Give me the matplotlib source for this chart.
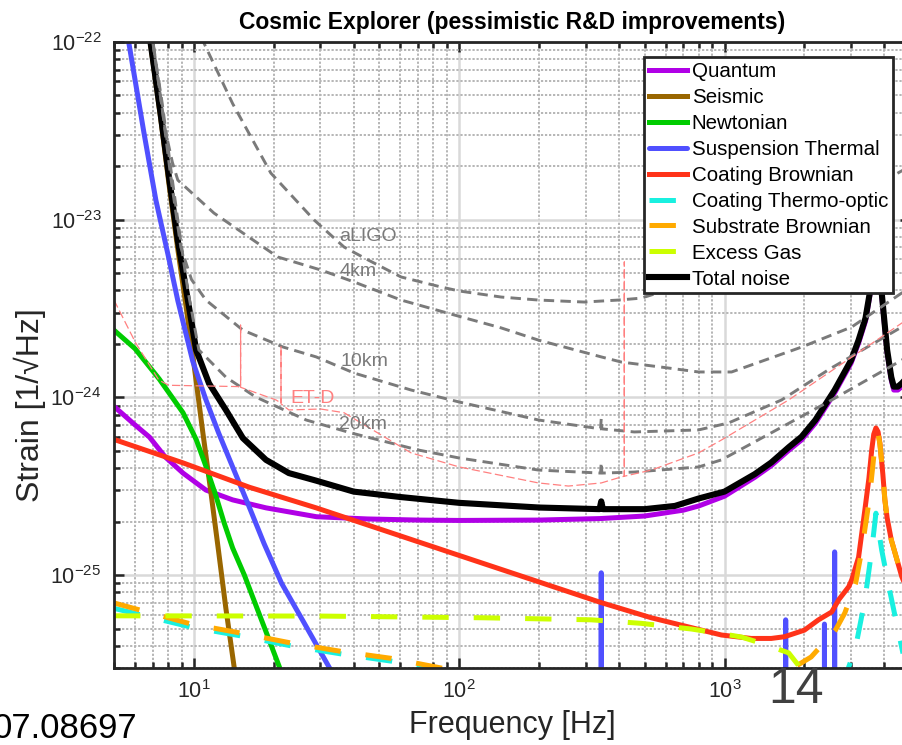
import matplotlib
matplotlib.use("Agg")
import numpy as np
import matplotlib.pyplot as plt
from matplotlib.ticker import LogLocator, NullFormatter

plt.rcParams['font.family'] = ['Liberation Sans', 'DejaVu Sans']
plt.rcParams['mathtext.fontset'] = 'custom'
plt.rcParams['mathtext.rm'] = 'Liberation Sans'
plt.rcParams['lines.scale_dashes'] = False
plt.rcParams['axes.unicode_minus'] = False

# --- noise budget curves ---
f_quantum = [5, 6, 6.8, 7.8, 9.1, 11.1, 14, 18.7, 29, 45, 70, 100, 200, 340, 500, 700, 800, 1000, 1300, 1500,
             1750, 1950, 2200, 2600, 3000, 3200, 3400, 3530, 3620, 3700, 3760, 3850, 3912, 4100, 4250, 4343,
             4500, 4656, 5000]
h_quantum = [8.9e-25, 7.0e-25, 5.98e-25, 4.62e-25, 3.75e-25, 3.01e-25, 2.65e-25, 2.39e-25, 2.13e-25, 2.07e-25,
             2.04e-25, 2.03e-25, 2.04e-25, 2.08e-25, 2.15e-25, 2.32e-25, 2.45e-25, 2.78e-25, 3.55e-25, 4.13e-25,
             5.05e-25, 5.76e-25, 7.16e-25, 1.06e-24, 1.56e-24, 2.02e-24, 2.69e-24, 3.75e-24, 6.7e-24, 1.49e-23,
             1.49e-23, 5.8e-24, 3.72e-24, 1.78e-24, 1.25e-24, 1.1e-24, 1.1e-24, 1.15e-24, 1.3e-24]

f_seis = [6.5, 6.85, 7.5, 8.05, 8.7, 9.33, 10.0, 10.8, 11.6, 12.4, 13.2, 14.2, 15.0]
h_seis = [1.8e-22, 1.0e-22, 3.7e-23, 1.6e-23, 6.8e-24, 3.3e-24, 1.55e-24, 6.4e-25, 2.9e-25, 1.35e-25,
          6.5e-26, 3.0e-26, 1.6e-26]

f_newt = [5, 6, 7.4, 9.1, 10.2, 11.1, 12.1, 13, 14, 15.5, 16.2, 18.7, 20.9, 23]
h_newt = [2.39e-24, 1.88e-24, 1.27e-24, 8.2e-25, 5.8e-25, 4.1e-25, 2.8e-25, 1.97e-25, 1.42e-25, 1.0e-25,
          8.4e-26, 4.8e-26, 3.1e-26, 2.1e-26]

f_susp = [5.3, 5.68, 6.48, 7.19, 8.0, 8.7, 9.9, 11.1, 12.4, 14.0, 16.2, 18.4, 21.4, 26, 32.3, 36, 60, 150,
          340, 343, 346, 1000, 1695, 1700, 1705, 2375, 2380, 2385, 2595, 2600, 2605, 5000]
h_susp = [2e-22, 1.0e-22, 3.1e-23, 1.29e-23, 6.3e-24, 3.5e-24, 1.6e-24, 9.7e-25, 6.3e-25, 4.06e-25,
          2.4e-25, 1.5e-25, 9.0e-26, 5.4e-26, 3.04e-26, 2.3e-26, 8e-27, 2e-27, 1e-27, 1.03e-25, 1e-27,
          5e-28, 5e-28, 5.6e-26, 5e-28, 5e-28, 5.3e-26, 5e-28, 5e-28, 1.35e-25, 5e-28, 5e-28]

f_cb = [5, 9.1, 16.2, 28.9, 94, 343, 530, 819, 974, 1260, 1500, 1684, 2000, 2260, 2534, 2700, 2938, 3015,
        3200, 3380, 3500, 3587, 3650, 3720, 3790, 3850, 3950, 4020, 4100, 4250, 4656, 5000]
h_cb = [5.8e-25, 4.28e-25, 3.12e-25, 2.39e-25, 1.33e-25, 7.0e-26, 5.75e-26, 4.9e-26, 4.6e-26, 4.4e-26,
        4.4e-26, 4.5e-26, 4.9e-26, 5.6e-26, 6.2e-26, 7.3e-26, 8.6e-26, 9.4e-26, 1.26e-25, 2.33e-25,
        3.5e-25, 5.06e-25, 6.2e-25, 6.73e-25, 6.4e-25, 5.53e-25, 3.7e-25, 2.65e-25, 2.1e-25, 1.58e-25,
        9.8e-26, 7.6e-26]

f_cto = [5, 9.74, 15.0, 23.2, 35.9, 55.4, 85.5, 150, 400, 1000, 2000, 2700, 2938, 3120, 3380, 3587, 3720,
         3912, 4165, 4400, 4700, 5000]
h_cto = [6.5e-26, 5.1e-26, 4.55e-26, 4.0e-26, 3.6e-26, 3.28e-26, 2.9e-26, 2.4e-26, 1.6e-26, 1.1e-26,
         1.2e-26, 2.0e-26, 3.04e-26, 3.93e-26, 7.24e-26, 1.38e-25, 2.23e-25, 1.38e-25, 8.57e-26, 5.8e-26,
         3.65e-26, 2.8e-26]

f_sub = [5, 9.74, 15.0, 23.2, 35.9, 55.4, 85.5, 150, 400, 1000, 1500, 1837, 2120, 2620, 2840, 3120, 3290,
         3510, 3620, 3720, 3790, 3850, 3950, 4020, 4100, 4250, 4656, 5000]
h_sub = [6.97e-26, 5.31e-26, 4.72e-26, 4.15e-26, 3.72e-26, 3.4e-26, 3.0e-26, 2.5e-26, 1.8e-26, 1.4e-26,
         2.1e-26, 3.04e-26, 3.46e-26, 4.91e-26, 6.12e-26, 9.0e-26, 1.38e-25, 2.65e-25, 4.1e-25, 6.1e-25,
         6.2e-25, 5.5e-25, 3.7e-25, 2.65e-25, 2.1e-25, 1.58e-25, 9.8e-26, 7.6e-26]

f_gas = [5, 30, 124, 315, 486, 751, 1000, 1159, 1400, 1744, 1900, 2100, 2400]
h_gas = [5.9e-26, 5.88e-26, 5.75e-26, 5.6e-26, 5.35e-26, 4.97e-26, 4.65e-26, 4.48e-26, 4.1e-26, 3.65e-26,
         3.1e-26, 2.3e-26, 1.5e-26]

f_total = [6.6, 6.85, 7.5, 8.05, 8.7, 9.49, 10.2, 11.4, 13.2, 15.3, 18.7, 22.8, 28.9, 40, 60, 100, 200,
           338, 343, 348, 500, 650, 800, 1000, 1300, 1500, 1750, 1950, 2200, 2600, 3000, 3200, 3400, 3530,
           3620, 3700, 3760, 3850, 3912, 4100, 4250, 4343, 4500, 4656, 5000]
h_total = [1.8e-22, 1.02e-22, 3.9e-23, 1.75e-23, 7.6e-24, 3.53e-24, 1.85e-24, 1.2e-24, 8.5e-25, 5.9e-25,
           4.45e-25, 3.75e-25, 3.4e-25, 2.95e-25, 2.75e-25, 2.55e-25, 2.4e-25, 2.35e-25, 2.6e-25, 2.35e-25,
           2.35e-25, 2.45e-25, 2.7e-25, 2.95e-25, 3.7e-25, 4.3e-25, 5.26e-25, 6.0e-25, 7.46e-25, 1.1e-24,
           1.62e-24, 2.1e-24, 2.8e-24, 3.9e-24, 7e-24, 1.55e-23, 1.55e-23, 6e-24, 3.87e-24, 1.85e-24,
           1.3e-24, 1.15e-24, 1.15e-24, 1.2e-24, 1.35e-24]

# --- reference sensitivities ---
f_aligo = [10, 10.9, 14, 19.5, 28.4, 36.8, 45.4, 60.4, 85.5, 100, 144, 199, 296, 398, 486, 700, 1000, 2000,
           3000, 4500, 5000]
h_aligo = [1.3e-22, 9.9e-23, 4.5e-23, 1.83e-23, 9.96e-24, 7.02e-24, 5.93e-24, 4.76e-24, 4.18e-24, 3.97e-24,
           3.67e-24, 3.53e-24, 3.44e-24, 3.53e-24, 3.62e-24, 4.3e-24, 5.5e-24, 9.5e-24, 1.3e-23, 1.83e-23,
           2.0e-23]

f_4km = [7.0, 7.8, 8.3, 8.7, 11.9, 20.7, 30.1, 40.2, 60.4, 95.7, 144, 199, 343, 409, 600, 798, 1063, 1953,
         3015, 4656, 5000]
h_4km = [1.0e-22, 3.2e-23, 2.1e-23, 1.67e-23, 1.09e-23, 6.17e-24, 5.21e-24, 4.46e-24, 3.53e-24, 2.91e-24,
         2.46e-24, 2.1e-24, 1.69e-24, 1.58e-24, 1.47e-24, 1.39e-24, 1.39e-24, 1.92e-24, 2.49e-24, 3.87e-24,
         4.2e-24]

f_10km = [6.9, 7.6, 8.2, 8.93, 9.8, 11.1, 15.3, 21.7, 28.9, 40.2, 65.9, 100, 199, 323, 341, 343, 345, 457,
          798, 1035, 1640, 2500, 4656, 5000]
h_10km = [1.2e-22, 4.2e-23, 1.7e-23, 7.0e-24, 4.6e-24, 3.53e-24, 2.39e-24, 1.92e-24, 1.69e-24, 1.37e-24,
          1.1e-24, 9.42e-25, 7.46e-25, 6.73e-25, 6.65e-25, 7.6e-25, 6.65e-25, 6.39e-25, 6.56e-25, 7.18e-25,
          9.67e-25, 1.45e-24, 2.49e-24, 2.65e-24]

f_20km = [6.9, 7.6, 8.2, 8.78, 9.49, 10.44, 13.2, 17.1, 26.5, 39.1, 70, 100, 199, 341, 343, 345, 457, 798,
          974, 2534, 4656, 5000]
h_20km = [1.15e-22, 4.5e-23, 1.9e-23, 9e-24, 4.0e-24, 1.85e-24, 1.3e-24, 1.005e-24, 7.46e-25, 6.31e-25,
          5.06e-25, 4.56e-25, 3.9e-25, 3.75e-25, 4.3e-25, 3.75e-25, 3.8e-25, 4.06e-25, 4.45e-25, 9.67e-25,
          1.62e-24, 1.75e-24]

f_etd = [5, 6.04, 7.38, 8.05, 14.8, 15.0, 15.0, 15.0, 20.4, 21.3, 21.3, 21.3, 22.8, 30.1, 36.8, 49.4, 65.9,
         100, 199, 258, 343, 409, 419, 419, 419, 530, 798, 974, 1744, 4656, 5000]
h_etd = [3.53e-24, 2.02e-24, 1.25e-24, 1.17e-24, 1.15e-24, 1.15e-24, 2.55e-24, 1.14e-24, 9.67e-25, 9.3e-25,
         1.92e-24, 9.2e-25, 8.5e-25, 8.6e-25, 8.2e-25, 6.3e-25, 4.87e-25, 4.06e-25, 3.3e-25, 3.17e-25,
         3.3e-25, 3.57e-25, 3.6e-25, 5.78e-24, 3.6e-25, 3.9e-25, 4.87e-25, 5.76e-25, 9.67e-25, 2.62e-24,
         2.8e-24]

fig = plt.figure(figsize=(9.02, 7.45), dpi=100)
ax = fig.add_axes([114 / 902, 77 / 745, 796 / 902, 626 / 745])

lw = 3.6
dash = (19, 18)
ax.loglog(f_quantum, h_quantum, color='#b000e6', lw=lw, label='Quantum')
ax.loglog(f_seis, h_seis, color='#996600', lw=lw, label='Seismic')
ax.loglog(f_newt, h_newt, color='#00cc00', lw=lw, label='Newtonian')
ax.loglog(f_susp, h_susp, color='#5050ff', lw=lw, label='Suspension Thermal',
          solid_joinstyle='round', solid_capstyle='round')
ax.loglog(f_cb, h_cb, color='#ff3319', lw=lw, label='Coating Brownian')
ax.loglog(f_cto, h_cto, color='#19f0e0', lw=lw, dashes=dash, label='Coating Thermo-optic')
ax.loglog(f_sub, h_sub, color='#ffaa00', lw=lw, dashes=dash, label='Substrate Brownian')
ax.loglog(f_gas, h_gas, color='#ccff00', lw=lw, dashes=dash, label='Excess Gas')
ax.loglog(f_total, h_total, color='black', lw=4.4, label='Total noise')

gray = '#7a7a7a'
for fr, hr in [(f_aligo, h_aligo), (f_4km, h_4km), (f_10km, h_10km), (f_20km, h_20km)]:
    ax.loglog(fr, hr, color=gray, lw=2.1, dashes=(7.5, 4.5), label='_nolegend_')
ax.loglog(f_etd, h_etd, color='#ff8080', lw=0.9, dashes=(6, 2.5), label='_nolegend_')

ax.text(35.3, 8.0e-24, 'aLIGO', color=gray, fontsize=14, ha='left', va='center')
ax.text(35.3, 5.14e-24, '4km', color=gray, fontsize=14, ha='left', va='center')
ax.text(35.8, 1.6e-24, '10km', color=gray, fontsize=14, ha='left', va='center')
ax.text(35.3, 7.0e-25, '20km', color=gray, fontsize=14, ha='left', va='center')
ax.text(23.2, 9.8e-25, 'ET-D', color='#ff8080', fontsize=14, ha='left', va='center')

ax.set_xlim(5, 5000)
ax.set_ylim(3e-26, 1e-22)
ax.xaxis.set_major_locator(LogLocator(base=10, numticks=20))
ax.yaxis.set_major_locator(LogLocator(base=10, numticks=20))
ax.xaxis.set_minor_locator(LogLocator(base=10, subs=np.arange(2, 10), numticks=100))
ax.yaxis.set_minor_locator(LogLocator(base=10, subs=np.arange(2, 10), numticks=100))
ax.xaxis.set_minor_formatter(NullFormatter())
ax.yaxis.set_minor_formatter(NullFormatter())

ax.set_axisbelow(True)
ax.grid(True, which='major', color='#d9d9d9', lw=1.8, ls='-')
ax.grid(True, which='minor', color='#b5b5b5', lw=1.4, ls=(0, (1.6, 1.3)))
ax.tick_params(which='both', direction='in', top=True, right=True, colors='#262626',
               labelsize=15.5, width=1.8)
ax.tick_params(which='major', length=7, pad=9)
ax.tick_params(which='minor', length=4)
for sp in ax.spines.values():
    sp.set_linewidth(2.0)
    sp.set_color('#262626')

ax.set_title('Cosmic Explorer (pessimistic R&D improvements)', fontsize=16.5, fontweight='bold', pad=9)
ax.set_xlabel('Frequency [Hz]', fontsize=22, color='#262626')
ax.xaxis.set_label_coords(0.5, -0.067)
ax.set_ylabel('Strain [1/\u221aHz]', fontsize=23, color='#262626')
ax.yaxis.set_label_coords(-0.0854, 0.42)

leg = ax.legend(loc='upper right', bbox_to_anchor=(0.9786, 0.976), borderaxespad=0, fontsize=14.8,
                frameon=True, fancybox=False, edgecolor='#262626', framealpha=1,
                handlelength=1.85, handletextpad=0.25, labelspacing=0.34, borderpad=0.23)
leg.get_frame().set_linewidth(2.0)

fig.text(137 / 902, 7 / 745, '07.08697', fontsize=25, ha='right', va='baseline', color='black')
fig.text(796 / 902, 42 / 745, '14', fontsize=36, ha='center', va='baseline', color='#404040')

fig.savefig('out.png', dpi=100)
